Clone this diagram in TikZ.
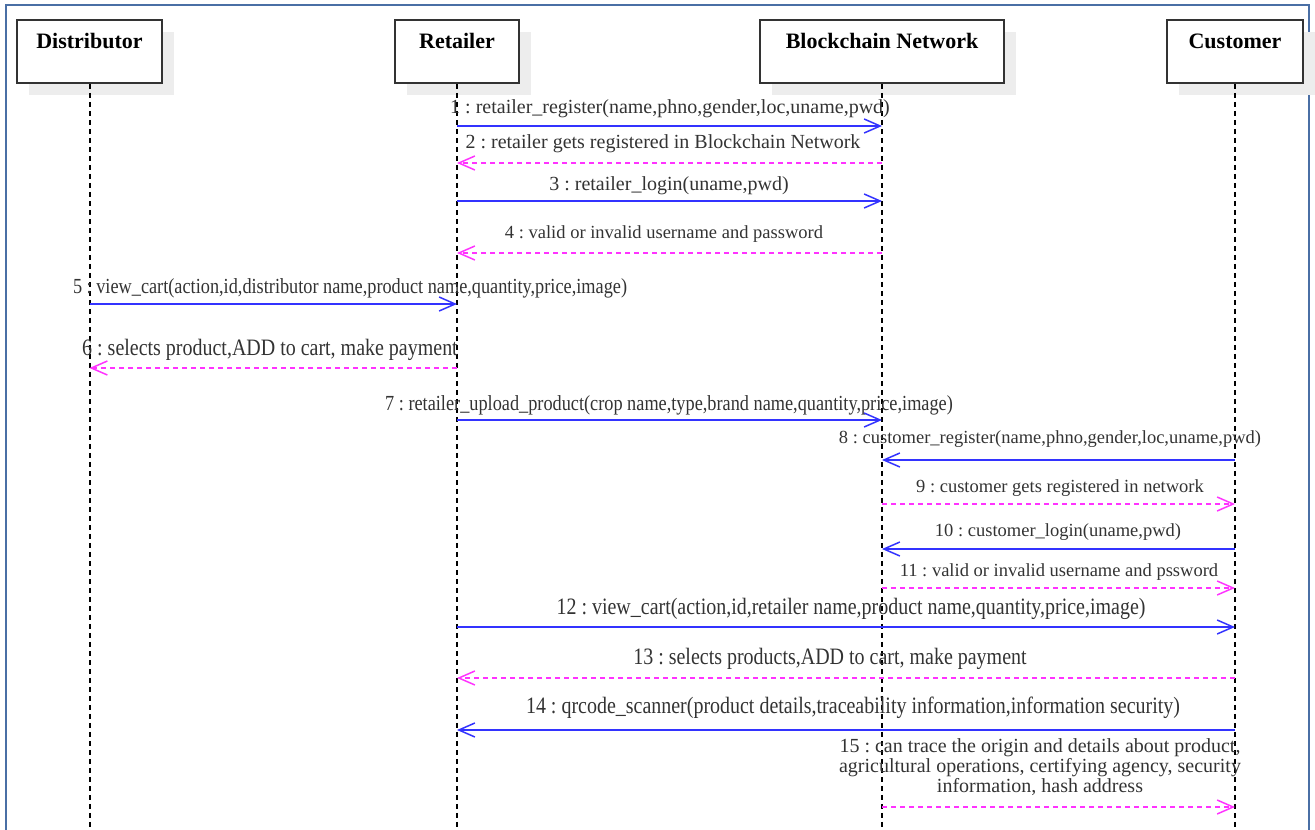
\documentclass[tikz,border=0pt]{standalone}
\usepackage{fontspec}
\setmainfont{Liberation Serif}
\newfontfamily\narrowfont[FakeStretch=0.85]{Liberation Serif}
\usetikzlibrary{arrows.meta,shadows}
\definecolor{msgblue}{HTML}{3333FF}
\definecolor{retpink}{HTML}{FF33FF}
\definecolor{framecol}{HTML}{4A6FA5}
\definecolor{txtgray}{HTML}{333333}
\frenchspacing
\tikzset{
  actor/.style={draw=txtgray, line width=1.5pt, fill=white, inner sep=0pt,
    text height=28pt, text depth=35pt, font=\fontsize{22}{24}\selectfont\bfseries,
    drop shadow={shadow xshift=12pt, shadow yshift=-12pt, fill=black!7, opacity=1}},
  lifeline/.style={black, line width=2pt, dash pattern=on 5pt off 4pt},
  call/.style={msgblue, line width=1.5pt, -{Straight Barb[length=16pt,width=14pt]}},
  reply/.style={retpink, line width=1.5pt, dash pattern=on 5pt off 4pt,
    -{Straight Barb[length=16pt,width=14pt]}},
  msgtxt/.style={text=txtgray, inner sep=0pt, font=\fontsize{20}{20}\selectfont},
  msgsmall/.style={text=txtgray, inner sep=0pt, font=\fontsize{18.5}{20}\selectfont},
  msgnarrow/.style={text=txtgray, inner sep=0pt, font=\narrowfont\fontsize{21.5}{22}\selectfont},
  msgwide/.style={text=txtgray, inner sep=0pt, font=\narrowfont\fontsize{23.5}{24}\selectfont}
}
\begin{document}
\begin{tikzpicture}[x=1pt,y=-1pt]
\useasboundingbox (0,0) rectangle (1315,830);
\draw[framecol, line width=2pt] (6,830) -- (6,5) -- (1309,5) -- (1309,830);
%
\node[actor, minimum width=145pt] (dist) at (89.5,51.5) {Distributor};
\node[actor, minimum width=124pt] (ret) at (457,51.5) {Retailer};
\node[actor, minimum width=244pt] (bc) at (882,51.5) {Blockchain Network};
\node[actor, minimum width=136pt] (cust) at (1235,51.5) {Customer};
%
\draw[lifeline] (dist.south) -- (dist.south |- 0,830);
\draw[lifeline] (ret.south) -- (ret.south |- 0,830);
\draw[lifeline] (bc.south) -- (bc.south |- 0,830);
\draw[lifeline] (cust.south) -- (cust.south |- 0,830);
%
\draw[call] (ret |- 0,126) -- (bc |- 0,126);
\node[msgtxt] (m1) at (670,109) {1 : retailer\_register(name,phno,gender,loc,uname,pwd)};
\draw[reply] (bc |- 0,163) -- (ret |- 0,163);
\node[msgtxt] (m2) at (663,144) {2 : retailer gets registered in Blockchain Network};
\draw[call] (ret |- 0,201) -- (bc |- 0,201);
\node[msgtxt] (m3) at (669,186) {3 : retailer\_login(uname,pwd)};
\draw[reply] (bc |- 0,253) -- (ret |- 0,253);
\node[msgsmall] (m4) at (664,234) {4 : valid or invalid username and password};
%
\draw[call] (dist |- 0,304) -- (ret |- 0,304);
\node[msgnarrow] (m5) at (350,288) {5 : view\_cart(action,id,distributor name,product name,quantity,price,image)};
\draw[reply] (ret |- 0,368) -- (dist |- 0,368);
\node[msgwide] (m6) at (270,350) {6 : selects product,ADD to cart, make payment};
\draw[call] (ret |- 0,420) -- (bc |- 0,420);
\node[msgnarrow] (m7) at (669,405) {7 : retailer\_upload\_product(crop name,type,brand name,quantity,price,image)};
%
\draw[call] (cust |- 0,460) -- (bc |- 0,460);
\node[msgsmall] (m8) at (1050,439) {8 : customer\_register(name,phno,gender,loc,uname,pwd)};
\draw[reply] (bc |- 0,504) -- (cust |- 0,504);
\node[msgsmall] (m9) at (1060,488) {9 : customer gets registered in network};
\draw[call] (cust |- 0,549) -- (bc |- 0,549);
\node[msgsmall] (m10) at (1058,532) {10 : customer\_login(uname,pwd)};
\draw[reply] (bc |- 0,588) -- (cust |- 0,588);
\node[msgsmall] (m11) at (1059,572) {11 : valid or invalid username and pssword};
%
\draw[call] (ret |- 0,627) -- (cust |- 0,627);
\node[msgwide] (m12) at (851,609) {12 : view\_cart(action,id,retailer name,product name,quantity,price,image)};
\draw[reply] (cust |- 0,678) -- (ret |- 0,678);
\node[msgwide] (m13) at (830,659) {13 : selects products,ADD to cart, make payment};
\draw[call] (cust |- 0,730) -- (ret |- 0,730);
\node[msgwide] (m14) at (853,708) {14 : qrcode\_scanner(product details,traceability information,information security)};
%
\draw[reply] (bc |- 0,807) -- (cust |- 0,807);
\node[msgtxt, align=center] (m15) at (1040,767) {15 : can trace the origin and details about product,\\agricultural operations, certifying agency, security\\information, hash address};
\end{tikzpicture}
\end{document}
